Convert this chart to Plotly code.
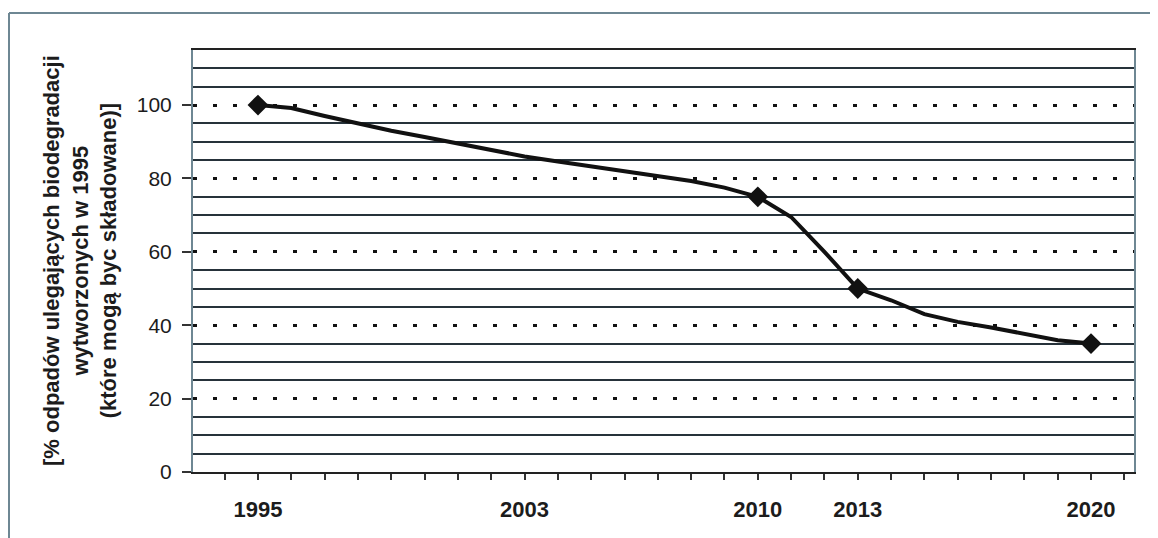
import plotly.graph_objects as go

# data
years = list(range(1995, 2021))
values = [100, 99.2, 97, 95, 93, 91.3, 89.6, 87.8, 86, 84.6, 83.3, 82, 80.8, 79.3,
          77.5, 75, 69.5, 60, 50, 46.8, 43, 40.9, 39.4, 37.6, 35.9, 35]
marker_years = [1995, 2010, 2013, 2020]
marker_values = [100, 75, 50, 35]
label_years = [1995, 2003, 2010, 2013, 2020]
y_ticks = [0, 20, 40, 60, 80, 100]
y_minor_grid = [5, 10, 15, 25, 30, 35, 45, 50, 55, 65, 70, 75, 85, 90, 95, 105, 110, 115]
axis_years = list(range(1993, 2022))
y_title_lines = ["[% odpadów ulegających biodegradacji",
                 "wytworzonych w 1995",
                 "(które mogą byc składowane)]"]

# page has an 8px body margin, so the figure is laid out 8px in from the page corner
W, H = 1150, 530
L, R, T, B = 185, 24, 42, 66
pw, ph = W - L - R, H - T - B

fig = go.Figure()
fig.add_trace(go.Scatter(x=years, y=values, mode="lines",
                         line=dict(color="#111111", width=4),
                         hoverinfo="skip", showlegend=False))
fig.add_trace(go.Scatter(x=marker_years, y=marker_values, mode="markers",
                         marker=dict(symbol="diamond", size=16, color="#111111"),
                         showlegend=False))

ticktext = [str(y) if y in label_years else "" for y in axis_years]

fig.update_layout(
    width=W, height=H,
    margin=dict(l=L, r=R, t=T, b=B),
    paper_bgcolor="white", plot_bgcolor="white",
    font=dict(family="Liberation Sans, Arial, sans-serif", color="#1c1c1c"),
    xaxis=dict(range=[1993.05, 2021.29], tickvals=axis_years, ticktext=ticktext,
               ticks="outside", ticklen=6, tickwidth=1.5, tickcolor="#333333",
               showgrid=False, zeroline=False,
               showline=True, linecolor="#222222", linewidth=2, mirror=True,
               tickfont=dict(size=22, family="Liberation Sans, Arial", color="#1c1c1c",
                             weight="bold"),
               ticklabelstandoff=11),
    yaxis=dict(range=[0, 115], tickvals=y_ticks,
               ticks="outside", ticklen=9, tickwidth=1.5, tickcolor="#333333",
               showgrid=True, gridcolor="#111111", gridwidth=3, griddash="4px,16px",
               zeroline=False,
               showline=True, linecolor="#6e8793", linewidth=2, mirror=True,
               tickfont=dict(size=21, color="#1c1c1c"),
               ticklabelstandoff=6,
               minor=dict(tickvals=y_minor_grid, showgrid=True, gridcolor="#26323a",
                          gridwidth=1.5, griddash="solid")),
)

fig.add_annotation(text="<br>".join(y_title_lines), textangle=-90,
                   xref="paper", yref="paper",
                   x=(72 - L) / pw, y=0.5, xanchor="center", yanchor="middle",
                   showarrow=False,
                   font=dict(size=22, weight="bold", color="#1c1c1c"))

# outer frame (left and top edges)
fig.add_shape(type="line", xref="paper", yref="paper",
              x0=(1 - L) / pw, x1=(W + 5 - L) / pw,
              y0=(H - B - 5) / ph, y1=(H - B - 5) / ph,
              line=dict(color="#6e8793", width=2))
fig.add_shape(type="line", xref="paper", yref="paper",
              x0=(1 - L) / pw, x1=(1 - L) / pw,
              y0=(H - B - 5) / ph, y1=-(B + 5) / ph,
              line=dict(color="#6e8793", width=2))

fig.write_html("out.html")
